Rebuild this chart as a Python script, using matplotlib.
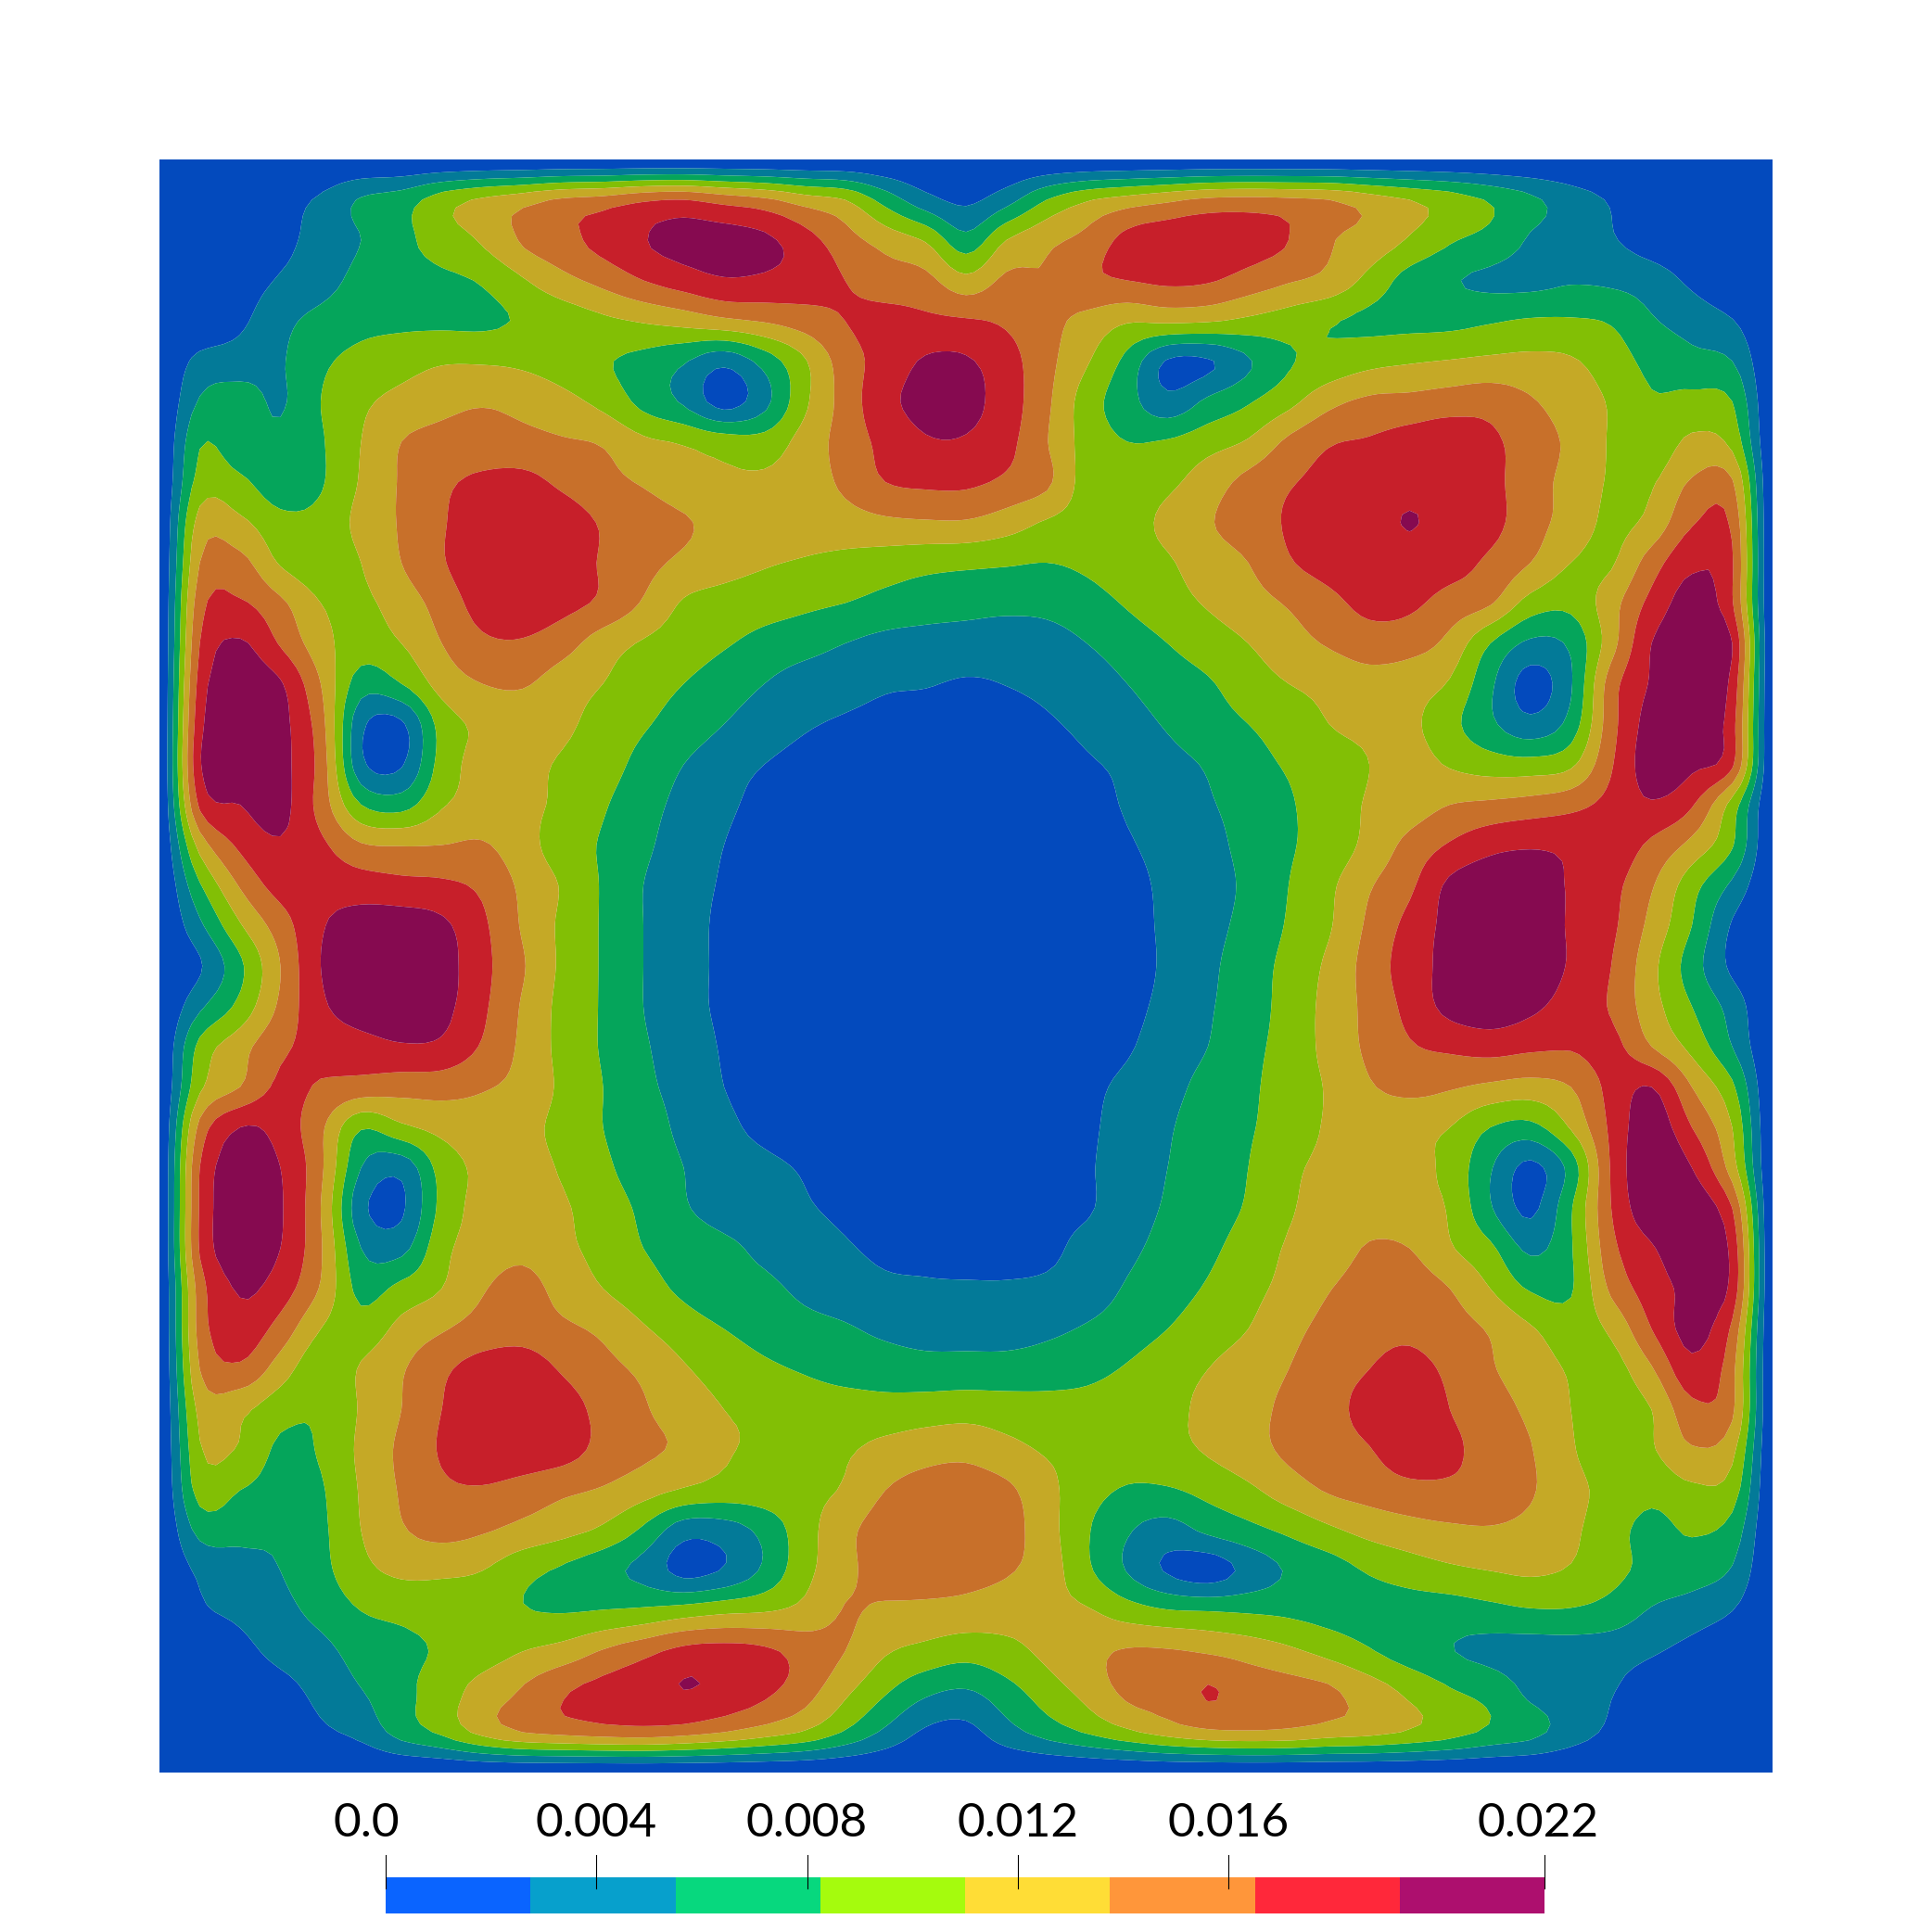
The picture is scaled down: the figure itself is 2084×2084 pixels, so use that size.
import numpy as np
import matplotlib
matplotlib.use('Agg')
import matplotlib.pyplot as plt

# field on a 41x41 grid, top row first, in units of one colour band
band_field = [
    [0]*41,
    [0,.1,.2,.6,1.15,2.1,2.5,3.5,4.15,4.6,5.15,5.4,5.85,6.0,5.6,5.2,4.5,4.0,2.6,1.35,.8,1.6,3.0,3.9,4.4,4.8,5.2,5.3,5.2,5.0,4.5,4.0,3.5,2.9,2.2,1.5,.9,.3,.1,.05,0],
    [0,.1,.2,.7,1.4,2.0,2.7,3.5,4.1,5.1,5.7,6.3,6.95,7.3,7.4,7.2,6.4,5.4,4.6,3.9,2.35,4.0,4.75,5.3,6.3,6.6,6.6,6.4,6.0,5.1,4.6,3.9,3.1,2.7,1.9,1.6,1.1,.5,.2,.05,0],
    [0,.1,.5,1.1,1.6,2.3,2.6,2.8,3.1,3.9,4.7,5.3,6.0,6.5,6.9,6.8,6.5,6.0,5.5,5.3,4.3,5.2,5.1,5.8,6.0,6.2,6.1,5.6,5.1,4.7,3.7,2.6,2.1,1.8,1.7,1.9,1.8,1.5,.8,.2,0],
    [0,.1,.8,1.7,2.3,2.7,2.8,2.8,2.8,3.1,3.4,3.8,4.1,4.4,4.8,5.1,5.5,6.0,6.3,6.2,6.1,5.85,5.3,4.7,4.1,4.2,4.1,3.8,3.5,3.1,2.8,2.7,2.7,2.9,3.1,3.1,2.9,2.1,1.6,1.05,0],
    [0,1.3,1.5,1.9,2.8,3.3,3.6,3.9,3.9,3.8,3.5,3.1,2.7,2.1,1.3,2.4,3.9,5.5,6.4,7.1,7.1,6.4,5.3,4.1,2.7,.9,.9,1.9,2.9,3.3,3.7,3.9,4.05,4.2,4.25,4.1,3.5,2.7,2.3,2.0,0],
    [0,2.1,2.4,1.9,3.0,3.8,4.3,4.7,4.9,4.7,4.3,3.7,2.7,1.85,.6,1.7,3.8,5.4,6.7,7.3,7.3,6.5,5.2,3.5,2.4,1.3,2.2,2.9,3.7,4.7,5.2,5.3,5.5,5.6,5.1,4.5,3.9,3.1,3.3,3.0,0],
    [0,2.9,2.4,2.2,2.9,4.0,5.0,5.3,5.4,5.3,5.1,4.9,4.2,3.9,3.5,3.4,4.4,5.4,6.3,6.9,6.9,6.3,5.05,3.6,3.0,3.1,3.6,4.1,5.2,5.9,6.1,6.4,6.6,6.2,5.5,4.8,3.9,3.3,4.2,3.7,0],
    [0,3.4,3.2,2.4,2.9,4.1,5.1,5.8,6.2,6.3,5.8,5.3,4.9,4.4,4.2,4.2,4.5,5.2,6.0,6.2,6.2,5.8,5.2,3.6,3.6,3.8,4.5,5.3,5.9,6.3,6.7,6.7,6.7,6.3,5.4,4.7,3.9,3.9,5.1,5.1,0],
    [0,4.4,4.2,3.3,3.3,4.3,5.1,5.9,6.6,6.8,6.5,5.9,5.5,5.1,4.7,4.6,4.5,4.6,4.8,4.9,4.9,4.5,3.9,3.6,3.7,4.2,4.9,5.5,6.1,6.5,6.6,7.05,6.6,6.3,5.4,4.6,3.8,4.3,5.9,5.8,0],
    [0,5.0,5.3,3.9,3.4,4.0,5.0,5.9,6.7,6.8,6.5,5.9,5.3,4.8,4.4,4.1,3.9,3.7,3.5,3.3,3.2,3.1,3.0,3.2,3.6,3.9,4.5,5.0,5.9,6.4,6.7,6.6,6.4,5.8,5.0,4.0,3.9,5.5,6.8,6.1,0],
    [0,5.6,6.1,5.2,4.0,3.8,4.5,5.4,6.4,6.6,6.3,5.8,4.9,3.9,3.6,3.4,3.2,3.0,2.7,2.5,2.4,2.3,2.3,2.6,3.1,3.6,4.1,4.6,5.1,5.7,6.3,6.2,5.6,5.1,3.6,3.3,4.6,6.3,7.4,6.1,0],
    [0,6.0,7.1,5.9,4.4,3.5,4.0,5.0,5.8,5.9,5.4,4.5,3.9,3.5,3.1,2.7,2.4,2.0,1.7,1.6,1.5,1.4,1.6,2.0,2.5,3.0,3.5,4.0,4.6,5.1,5.5,5.4,4.7,3.0,1.8,2.2,4.6,7.0,7.6,7.0,0],
    [0,6.4,7.5,7.1,5.0,2.5,3.0,4.4,5.0,5.1,4.5,4.0,3.4,3.0,2.5,2.0,1.5,1.3,1.1,1.05,.92,1.02,1.2,1.5,2.0,2.5,2.9,3.5,4.0,4.3,4.6,4.4,3.9,2.2,.6,1.9,5.5,7.1,7.7,6.7,0],
    [0,6.7,7.6,7.3,5.4,1.25,.85,3.4,4.2,4.4,4.2,3.6,3.1,2.6,2.0,1.5,1.1,.9,.8,.7,.6,.7,.9,1.2,1.6,2.1,2.6,3.0,3.4,4.0,4.2,4.2,3.3,2.2,1.3,2.4,5.6,7.4,7.5,6.4,0],
    [0,6.9,7.6,7.3,5.6,1.25,.9,3.4,4.3,4.2,3.9,3.4,2.7,2.0,1.4,1.0,.7,.5,.5,.4,.4,.4,.6,.9,1.2,1.7,2.1,2.7,3.1,3.6,4.0,4.4,3.9,3.5,3.4,3.8,5.9,7.5,7.2,6.2,0],
    [0,6.2,7.0,7.3,5.6,3.0,2.6,3.9,4.3,4.2,3.8,3.1,2.4,1.7,1.2,.7,.4,.3,.2,.2,.2,.2,.3,.6,1.1,1.5,1.9,2.4,2.9,3.5,4.1,4.5,5.0,5.2,5.4,5.7,6.3,6.9,6.1,3.6,0],
    [0,4.4,6.2,6.9,6.2,5.1,4.95,5.0,5.1,4.4,3.5,2.9,2.2,1.5,1.0,.5,.2,.1,.1,.1,.1,.1,.2,.4,.9,1.3,1.7,2.3,2.9,3.4,4.3,5.3,6.1,6.7,6.9,6.8,6.6,5.8,4.7,3.1,0],
    [0,2.9,5.1,6.4,6.6,6.5,6.3,6.2,5.8,4.8,3.9,2.9,2.0,1.4,.9,.5,.2,.1,.1,.1,.1,.1,.1,.3,.7,1.2,1.6,2.2,3.0,3.8,4.9,5.8,7.2,7.6,7.5,6.9,6.3,5.1,3.4,1.8,0],
    [0,1.8,3.9,5.5,6.9,7.4,7.5,7.2,6.2,4.9,3.8,2.9,2.0,1.4,.8,.5,.2,.1,.1,.1,.1,.1,.1,.3,.6,1.2,1.7,2.3,3.1,3.9,5.2,6.3,7.3,7.7,7.5,6.9,6.2,4.7,3.0,.9,0],
    [0,.9,2.8,5.0,7.0,7.6,7.7,7.4,6.3,5.1,3.8,2.9,2.0,1.4,.8,.5,.2,.1,.1,.1,.1,.1,.1,.2,.5,1.2,1.8,2.5,3.3,4.2,5.4,6.5,7.3,7.7,7.5,6.9,6.0,4.3,2.5,.8,0],
    [0,1.8,3.3,5.2,6.8,7.5,7.6,7.3,6.2,4.9,3.7,2.9,2.0,1.4,.8,.5,.2,.1,.1,.1,.1,.1,.2,.4,.7,1.3,1.9,2.5,3.4,4.3,5.3,6.3,7.3,7.6,7.2,6.6,5.9,4.4,3.0,1.6,0],
    [0,3.3,4.6,5.8,6.3,6.6,6.9,6.8,5.9,4.8,3.7,2.9,2.1,1.6,.9,.6,.3,.2,.1,.1,.1,.2,.3,.6,.9,1.5,2.0,2.7,3.4,4.3,5.2,5.9,6.2,6.4,6.2,6.1,6.3,5.0,3.7,2.0,0],
    [0,3.8,5.0,6.2,5.9,5.6,5.4,5.4,5.1,4.7,3.8,3.0,2.2,1.7,1.0,.7,.4,.2,.2,.2,.3,.3,.5,.8,1.2,1.7,2.3,2.8,3.5,4.1,4.9,5.3,5.1,4.8,4.6,5.0,6.3,7.0,5.0,3.2,0],
    [0,5.3,7.0,6.6,5.2,3.1,3.8,4.3,4.5,4.3,3.7,3.0,2.4,1.8,1.2,.8,.5,.4,.3,.3,.4,.5,.7,.85,1.4,1.9,2.5,2.9,3.5,4.1,4.3,4.2,4.0,3.0,2.7,4.1,6.2,7.6,6.0,4.0,0],
    [0,6.0,7.5,7.0,5.2,2.0,1.35,3.4,4.2,4.3,3.9,3.2,2.5,2.0,1.4,1.2,.9,.5,.4,.4,.5,.6,.7,.9,1.5,2.0,2.5,3.0,3.8,4.2,4.4,4.3,3.7,2.1,.75,2.4,6.1,7.8,7.0,4.5,0],
    [0,6.1,7.6,7.1,5.0,1.3,.85,3.3,4.3,4.3,4.1,3.5,2.8,2.1,1.6,1.5,1.1,.8,.5,.5,.6,.7,.8,.9,1.6,2.1,2.6,3.1,3.9,4.3,4.5,4.3,3.9,2.1,.8,2.9,6.0,7.7,7.7,6.0,0],
    [0,6.1,7.5,7.0,5.1,2.0,1.7,3.7,4.4,4.7,4.2,3.7,3.0,2.6,2.2,1.8,1.4,1.1,.8,.8,.7,.7,.8,1.3,1.8,2.3,2.8,3.4,4.1,4.4,5.1,5.0,4.1,3.2,1.8,2.9,5.7,6.9,7.6,6.7,0],
    [0,5.5,7.1,6.5,4.9,2.7,3.3,4.0,4.9,5.4,4.6,4.0,3.4,2.8,2.3,2.2,1.8,1.5,1.2,1.1,1.1,1.1,1.2,1.5,2.1,2.6,3.1,3.7,4.3,4.95,5.5,5.5,5.0,4.0,2.9,2.9,5.2,6.5,7.2,6.7,0],
    [0,5.4,6.6,5.6,4.0,3.4,4.3,4.9,5.4,5.6,5.2,4.8,4.1,3.5,3.0,2.6,2.3,2.1,1.8,1.6,1.6,1.6,1.8,2.1,2.5,3.0,3.5,4.0,4.7,5.3,5.7,5.8,5.4,4.9,4.1,3.5,4.2,6.0,7.3,5.8,0],
    [0,5.0,5.8,4.5,3.3,4.1,4.9,5.8,6.4,6.5,5.9,5.3,4.8,4.1,3.6,3.2,2.9,2.6,2.5,2.4,2.4,2.4,2.5,2.7,3.1,3.6,4.0,4.5,5.0,5.6,6.0,6.3,5.8,5.1,4.5,3.9,3.6,4.9,6.7,5.3,0],
    [0,4.3,4.2,3.4,3.1,4.1,5.0,6.0,6.5,6.6,6.4,5.7,5.1,4.5,4.0,3.8,3.6,3.5,3.4,3.5,3.6,3.5,3.4,3.4,3.6,3.8,4.2,4.7,5.2,5.7,6.3,6.7,6.0,5.4,4.8,4.0,3.5,4.0,5.7,5.2,0],
    [0,3.9,3.9,2.8,3.1,4.2,5.2,6.1,6.6,6.6,6.4,5.7,5.2,4.8,4.1,3.9,3.9,3.9,4.3,4.6,4.7,4.3,3.9,3.7,3.5,3.7,4.1,4.6,5.2,5.6,5.95,6.6,6.2,5.6,5.05,4.1,3.5,3.9,4.9,4.3,0],
    [0,3.4,3.0,2.6,2.9,4.1,5.1,5.8,5.9,5.6,5.2,4.9,4.4,3.9,3.6,3.6,3.8,4.1,5.0,5.4,5.5,5.2,4.3,3.4,2.9,2.9,3.3,3.8,4.5,5.1,5.4,5.7,5.8,5.6,5.1,4.3,3.7,3.3,3.8,3.5,0],
    [0,2.3,2.3,2.2,2.8,4.0,4.9,5.3,5.1,4.7,4.3,3.8,2.8,1.4,1.5,2.3,3.6,4.7,5.5,5.7,5.7,5.4,4.4,3.1,2.1,1.6,2.2,2.7,3.2,3.8,4.3,4.6,4.8,4.9,4.7,4.2,3.4,2.7,3.1,2.6,0],
    [0,1.2,1.6,2.0,2.7,3.7,4.2,4.2,4.0,3.3,2.85,2.3,1.7,.7,1.1,2.2,3.7,4.7,5.5,5.6,5.4,5.1,4.5,3.2,1.95,.9,.5,1.3,2.1,2.5,3.1,3.5,3.8,4.0,4.15,3.9,3.3,2.7,2.5,1.9,0],
    [0,.85,1.2,1.7,2.3,3.0,3.2,3.3,3.3,3.05,2.95,3.05,3.2,3.5,3.8,3.95,4.3,5.05,4.8,4.7,4.6,4.4,4.2,4.1,3.5,3.1,3.0,2.9,2.8,2.6,2.5,2.5,2.5,2.7,2.9,2.9,2.6,1.9,1.5,1.0,0],
    [0,.3,.7,1.3,1.7,2.4,2.8,3.1,3.5,4.0,4.4,5.1,5.7,6.3,6.4,6.2,5.6,5.0,4.1,3.7,3.4,3.7,4.2,4.7,5.1,5.1,4.9,4.6,4.2,3.7,3.1,2.5,2.05,1.7,1.5,1.5,1.4,1.1,.7,.3,0],
    [0,.1,.2,.6,1.3,1.95,2.7,3.5,4.4,5.1,5.9,6.3,6.6,6.99,6.7,6.2,5.4,4.2,3.1,2.2,1.9,2.6,3.5,4.3,5.2,5.4,6.06,5.6,5.4,5.15,4.5,3.8,3.1,2.7,1.8,1.5,1.05,.5,.2,.1,0],
    [0,.05,.1,.2,.8,1.3,2.4,3.2,4.3,5.0,5.3,5.5,5.6,5.4,5.0,4.5,3.9,2.9,1.8,.85,.7,1.6,2.4,3.1,3.8,4.4,4.8,4.9,4.8,4.5,4.3,3.9,3.4,2.8,2.3,1.5,.8,.3,.1,.05,0],
    [0]*41,
]
max_value = 0.022
tick_values = [0.0, 0.004, 0.008, 0.012, 0.016, 0.022]
tick_labels = ['0.0', '0.004', '0.008', '0.012', '0.016', '0.022']
label_shift_px = [-21, 0, 0, 0, 0, -7]
surface_colors = ['#034ABD', '#037A98', '#05A55B', '#82BF05', '#C5A926', '#C8702A', '#C71F2A', '#860A50']
bar_colors = ['#0A64FF', '#07A0CC', '#07D87E', '#A5FB0D', '#FFDD36', '#FF963A', '#FF283A', '#AD0F6E']


def refine(a, k):
    # catmull-rom along the first axis, so the contour outlines come out smooth
    n = a.shape[0]
    t = np.arange((n - 1) * k + 1) / k
    i = np.minimum(t.astype(int), n - 2)
    u = (t - i)[:, None]
    p0, p1, p2, p3 = a[np.maximum(i - 1, 0)], a[i], a[i + 1], a[np.minimum(i + 2, n - 1)]
    return 0.5 * (2*p1 + (p2 - p0)*u + (2*p0 - 5*p1 + 4*p2 - p3)*u**2 + (3*p1 - p0 - 3*p2 + p3)*u**3)


field = np.array(band_field, dtype=float) * max_value / 8
field = refine(refine(field, 5).T, 5).T
field = np.clip(field, 0, max_value)
levels = np.linspace(0, max_value, 9)
xs = np.linspace(0, 1, field.shape[1])
ys = np.linspace(0, 1, field.shape[0])

S = 2084.0
fig = plt.figure(figsize=(20.84, 20.84), dpi=100)
ax = fig.add_axes([172/S, (S-1912)/S, 1740/S, 1740/S])
ax.contourf(xs, ys, field, levels=levels, colors=surface_colors, antialiased=True)
ax.set_xlim(0, 1)
ax.set_ylim(1, 0)
ax.axis('off')

cax = fig.add_axes([416/S, (S-2064)/S, 1250/S, 39/S])
cax.pcolormesh(levels, [0, 1], np.arange(8).reshape(1, 8), cmap=matplotlib.colors.ListedColormap(bar_colors), vmin=-0.5, vmax=7.5)
cax.set_xlim(0, max_value)
cax.set_ylim(0, 1)
cax.axis('off')
for v, lab, dx in zip(tick_values, tick_labels, label_shift_px):
    cax.plot([v, v], [0.69, 1.62], color='black', lw=0.8, clip_on=False)
    cax.annotate(lab, (v, 2.13), xytext=(dx*0.72, 0), textcoords='offset points', ha='center', va='baseline',
                 annotation_clip=False, family='Lato', fontsize=37, color='black')

fig.savefig('out.png', dpi=100)
